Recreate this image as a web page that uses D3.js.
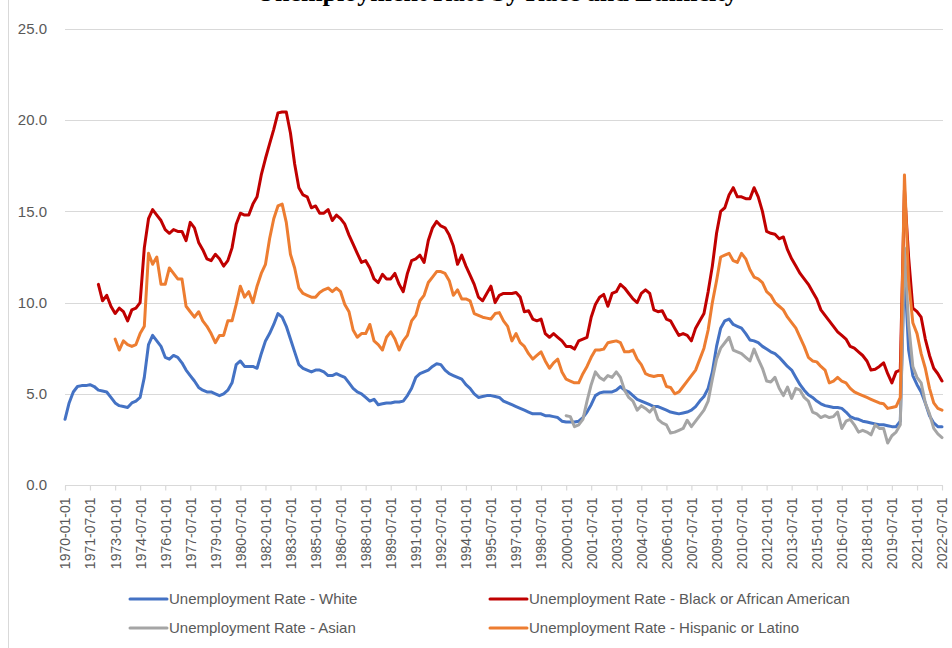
<!DOCTYPE html>
<html>
<head>
<meta charset="utf-8">
<script src="https://cdn.jsdelivr.net/npm/d3@7"></script>
<style>
  body { margin: 0; background: #fff; }
  svg { display: block; }
</style>
</head>
<body>
<div id="chart"></div>
<script>
// quarterly unemployment rate
const seriesNames = [
    "Unemployment Rate - White",
    "Unemployment Rate - Black or African American",
    "Unemployment Rate - Asian",
    "Unemployment Rate - Hispanic or Latino"
];
const seriesStarts = ["1970-01-01", "1972-01-01", "2000-01-01", "1973-01-01"];

const white = [
    3.6, 4.5, 5.1, 5.4,      // 1970
    5.45, 5.45, 5.5, 5.4,
    5.2, 5.15, 5.1, 4.8,
    4.5, 4.35, 4.3, 4.25,
    4.5, 4.6, 4.8, 5.9,
    7.7, 8.2, 7.9, 7.6,      // 1975
    7.0, 6.9, 7.1, 7.0,
    6.7, 6.3, 6.0, 5.7,
    5.35, 5.2, 5.1, 5.1,
    5.0, 4.9, 5.0, 5.2,
    5.6, 6.6, 6.8, 6.5,      // 1980
    6.5, 6.5, 6.4, 7.2,
    7.9, 8.3, 8.8, 9.4,
    9.2, 8.7, 8.0, 7.3,
    6.6, 6.4, 6.3, 6.2,
    6.3, 6.3, 6.2, 6.0,      // 1985
    6.0, 6.1, 6.0, 5.9,
    5.6, 5.3, 5.1, 5.0,
    4.8, 4.6, 4.7, 4.4,
    4.45, 4.5, 4.5, 4.55,
    4.55, 4.6, 4.9, 5.3,     // 1990
    5.9, 6.1, 6.2, 6.3,
    6.5, 6.65, 6.6, 6.3,
    6.1, 6.0, 5.9, 5.8,
    5.5, 5.3, 5.0, 4.8,
    4.85, 4.9, 4.9, 4.85,    // 1995
    4.8, 4.6, 4.5, 4.4,
    4.3, 4.2, 4.1, 4.0,
    3.9, 3.9, 3.9, 3.8,
    3.8, 3.75, 3.7, 3.5,
    3.45, 3.45, 3.45, 3.5,   // 2000
    3.7, 4.0, 4.4, 4.9,
    5.05, 5.1, 5.1, 5.1,
    5.2, 5.4, 5.2, 5.1,
    4.9, 4.7, 4.6, 4.5,
    4.4, 4.3, 4.3, 4.2,      // 2005
    4.1, 4.0, 3.95, 3.9,
    3.95, 4.0, 4.1, 4.3,
    4.6, 4.85, 5.3, 6.2,
    7.6, 8.6, 9.0, 9.1,
    8.8, 8.7, 8.6, 8.3,      // 2010
    7.95, 7.9, 7.8, 7.6,
    7.45, 7.3, 7.2, 7.0,
    6.75, 6.5, 6.3, 5.9,
    5.5, 5.2, 4.95, 4.8,
    4.6, 4.45, 4.35, 4.3,    // 2015
    4.25, 4.25, 4.2, 4.0,
    3.75, 3.65, 3.6, 3.5,
    3.45, 3.4, 3.35, 3.3,
    3.3, 3.25, 3.2, 3.2,
    3.5, 12.0, 7.4, 6.0,     // 2020
    5.5, 5.1, 4.5, 3.8,
    3.4, 3.2, 3.2
];

const black = [
    11.0, 10.1, 10.4, 9.8,   // 1972
    9.4, 9.7, 9.5, 9.0,
    9.6, 9.7, 10.0, 13.0,
    14.6, 15.1, 14.8, 14.5,  // 1975
    14.0, 13.8, 14.0, 13.9,
    13.9, 13.4, 14.4, 14.1,
    13.3, 12.9, 12.4, 12.3,
    12.65, 12.4, 12.0, 12.3,
    13.0, 14.3, 14.9, 14.8,  // 1980
    14.8, 15.4, 15.8, 17.0,
    17.9, 18.7, 19.5, 20.4,
    20.45, 20.45, 19.3, 17.6,
    16.3, 15.9, 15.8, 15.2,
    15.3, 14.9, 14.9, 15.1,  // 1985
    14.5, 14.8, 14.6, 14.3,
    13.7, 13.2, 12.7, 12.2,
    12.3, 11.9, 11.3, 11.1,
    11.55, 11.3, 11.3, 11.6,
    11.0, 10.6, 11.6, 12.3,  // 1990
    12.4, 12.6, 12.2, 13.4,
    14.1, 14.45, 14.2, 14.1,
    13.7, 13.1, 12.1, 12.6,
    12.0, 11.5, 11.0, 10.3,
    10.1, 10.5, 10.9, 10.0,  // 1995
    10.4, 10.5, 10.5, 10.5,
    10.55, 10.3, 9.5, 9.55,
    9.1, 9.0, 9.1, 8.3,
    8.1, 8.3, 8.1, 7.9,
    7.6, 7.6, 7.45, 7.9,     // 2000
    8.0, 8.1, 9.2, 9.9,
    10.3, 10.45, 9.8, 10.5,
    10.6, 11.0, 10.8, 10.5,
    10.2, 10.0, 10.5, 10.7,
    10.5, 9.6, 9.5, 9.55,    // 2005
    9.1, 9.0, 8.6, 8.2,
    8.3, 8.2, 7.9, 8.6,
    9.0, 9.4, 10.6, 12.0,
    13.8, 15.0, 15.2, 15.9,
    16.3, 15.8, 15.8, 15.7,  // 2010
    15.7, 16.3, 15.8, 15.0,
    13.9, 13.8, 13.75, 13.5,
    13.6, 12.9, 12.4, 12.0,
    11.6, 11.3, 11.0, 10.6,
    10.2, 9.6, 9.3, 9.0,     // 2015
    8.7, 8.4, 8.2, 8.0,
    7.6, 7.5, 7.3, 7.1,
    6.8, 6.3, 6.35, 6.5,
    6.7, 6.1, 5.6, 6.2,
    6.3, 16.2, 12.5, 9.7,    // 2020
    9.5, 9.2, 8.0, 7.1,
    6.4, 6.1, 5.7
];

const asian = [
    3.8, 3.75, 3.2, 3.3,     // 2000
    3.6, 4.6, 5.5, 6.2,
    5.9, 5.75, 6.0, 5.9,
    6.2, 5.9, 5.2, 4.8,
    4.6, 4.1, 4.35, 4.2,
    4.0, 4.27, 3.6, 3.4,     // 2005
    3.3, 2.85, 2.9, 3.0,
    3.1, 3.55, 3.2, 3.5,
    3.8, 4.1, 4.6, 5.8,
    6.9, 7.5, 7.8, 8.1,
    7.4, 7.3, 7.2, 7.0,      // 2010
    6.8, 7.45, 6.9, 6.4,
    5.7, 5.65, 5.9, 5.3,
    4.9, 5.37, 4.75, 5.3,
    5.2, 4.8, 4.6, 4.0,
    3.9, 3.7, 3.8, 3.7,      // 2015
    3.75, 4.0, 3.1, 3.5,
    3.6, 3.3, 2.9, 3.0,
    2.9, 2.75, 3.3, 3.1,
    3.1, 2.3, 2.7, 2.9,
    3.3, 13.0, 8.8, 6.5,     // 2020
    5.9, 5.6, 4.5, 3.9,
    3.1, 2.8, 2.6
];

const hispanic = [
    8.0, 7.4, 7.9, 7.7,      // 1973
    7.6, 7.7, 8.3, 8.7,
    12.7, 12.1, 12.5, 11.0,  // 1975
    11.0, 11.9, 11.6, 11.3,
    11.3, 9.8, 9.5, 9.2,
    9.5, 9.0, 8.7, 8.3,
    7.8, 8.2, 8.2, 9.0,
    9.0, 9.9, 10.9, 10.3,    // 1980
    10.6, 10.0, 10.9, 11.6,
    12.1, 13.5, 14.6, 15.3,
    15.4, 14.4, 12.65, 11.9,
    10.8, 10.5, 10.4, 10.3,
    10.3, 10.55, 10.7, 10.8, // 1985
    10.6, 10.8, 10.6, 9.9,
    9.5, 8.5, 8.1, 8.3,
    8.3, 8.8, 7.9, 7.7,
    7.4, 8.1, 8.4, 8.0,
    7.4, 7.9, 8.2, 9.0,      // 1990
    9.3, 10.1, 10.4, 11.1,
    11.4, 11.7, 11.7, 11.6,
    11.2, 10.4, 10.7, 10.2,
    10.2, 10.1, 9.4, 9.3,
    9.2, 9.15, 9.1, 9.4,     // 1995
    9.45, 9.0, 8.7, 7.9,
    8.3, 7.8, 7.6, 7.2,
    6.9, 7.1, 7.3, 6.8,
    6.4, 6.7, 6.9, 6.2,
    5.8, 5.7, 5.6, 5.6,      // 2000
    6.1, 6.5, 7.0, 7.4,
    7.4, 7.45, 7.8, 7.85,
    7.9, 7.8, 7.3, 7.3,
    7.4, 6.9, 6.6, 6.1,
    6.0, 5.95, 6.0, 6.0,     // 2005
    5.4, 5.35, 5.0, 5.1,
    5.4, 5.7, 6.0, 6.3,
    6.9, 7.5, 8.5, 10.0,
    11.2, 12.5, 12.6, 12.7,
    12.3, 12.2, 12.7, 12.4,  // 2010
    11.8, 11.4, 11.3, 11.1,
    10.6, 10.4, 10.0, 9.8,
    9.6, 9.2, 8.9, 8.6,
    8.1, 7.6, 7.0, 6.8,
    6.75, 6.5, 6.3, 5.6,     // 2015
    5.7, 5.9, 5.7, 5.6,
    5.3, 5.1, 5.0, 4.9,
    4.8, 4.7, 4.6, 4.5,
    4.45, 4.2, 4.25, 4.3,
    4.8, 17.0, 11.2, 8.9,    // 2020
    8.3, 7.2, 6.4, 5.3,
    4.5, 4.2, 4.1
];

const yTicks = [0, 5, 10, 15, 20, 25];
const xTickLabels = [
    "1970-01-01", "1971-07-01", "1973-01-01", "1974-07-01", "1976-01-01", "1977-07-01",
    "1979-01-01", "1980-07-01", "1982-01-01", "1983-07-01", "1985-01-01", "1986-07-01",
    "1988-01-01", "1989-07-01", "1991-01-01", "1992-07-01", "1994-01-01", "1995-07-01",
    "1997-01-01", "1998-07-01", "2000-01-01", "2001-07-01", "2003-01-01", "2004-07-01",
    "2006-01-01", "2007-07-01", "2009-01-01", "2010-07-01", "2012-01-01", "2013-07-01",
    "2015-01-01", "2016-07-01", "2018-01-01", "2019-07-01", "2021-01-01", "2022-07-01"
];

const colors = ["#4472C4", "#C00000", "#A5A5A5", "#ED7D31"];
const seriesValues = [white, black, asian, hispanic];

const width = 952, height = 648;
const margin = {left: 65, right: 10, top: 29, bottom: 163};

const parseDate = d3.utcParse("%Y-%m-%d");
const fmtDate = d3.utcFormat("%Y-%m-%d");

// each series is quarterly, starting at its own date
const series = seriesValues.map(function (vals, i) {
    let start = parseDate(seriesStarts[i]);
    return {
        name: seriesNames[i],
        color: colors[i],
        points: vals.map((v, k) => ({date: d3.utcMonth.offset(start, k * 3), value: v}))
    };
});

const svg = d3.select("#chart").append("svg")
    .attr("width", width)
    .attr("height", height);

let x = d3.scaleUtc()
    .domain([parseDate("1970-01-01"), parseDate("2022-07-01")])
    .range([margin.left, 942]);

let y = d3.scaleLinear()
    .domain([0, 25])
    .range([485, margin.top]);

// chart area border (left edge visible)
svg.append("line")
    .attr("x1", 8.5).attr("x2", 8.5)
    .attr("y1", 0).attr("y2", height)
    .attr("stroke", "#d9d9d9")
    .attr("stroke-width", 1);

// title, mostly cut off at the top
svg.append("text")
    .attr("x", 497)
    .attr("y", 1)
    .attr("text-anchor", "middle")
    .attr("font-family", "'Liberation Serif', 'Times New Roman', serif")
    .attr("font-weight", "bold")
    .attr("font-size", 26)
    .attr("fill", "#000")
    .text("Unemployment Rate by Race and Ethnicity");

// gridlines
svg.append("g")
    .selectAll("line")
    .data(yTicks.filter(d => d > 0))
    .join("line")
    .attr("x1", margin.left)
    .attr("x2", 943)
    .attr("y1", d => Math.round(y(d)) + 0.5)
    .attr("y2", d => Math.round(y(d)) + 0.5)
    .attr("stroke", "#d9d9d9")
    .attr("stroke-width", 1.2);

// y labels
svg.append("g")
    .selectAll("text")
    .data(yTicks)
    .join("text")
    .attr("x", 47)
    .attr("y", d => y(d))
    .attr("dy", "0.35em")
    .attr("text-anchor", "end")
    .attr("font-family", "'Liberation Sans', Arial, sans-serif")
    .attr("font-size", 15)
    .attr("fill", "#595959")
    .text(d => d3.format(".1f")(d));

// x axis
let xAxis = d3.axisBottom(x)
    .tickValues(xTickLabels.map(parseDate))
    .tickSize(5)
    .tickSizeOuter(0)
    .tickFormat(fmtDate);

let gx = svg.append("g")
    .attr("transform", "translate(0," + (Math.round(y(0)) + 0.5) + ")")
    .call(xAxis);

gx.select(".domain")
    .attr("stroke", "#d9d9d9")
    .attr("stroke-width", 1.2)
    .attr("d", "M" + margin.left + ",0H943");
gx.selectAll(".tick line")
    .attr("stroke", "#d9d9d9")
    .attr("stroke-width", 1.2);
gx.selectAll(".tick text")
    .attr("transform", "rotate(-90)")
    .attr("x", -12)
    .attr("y", 0)
    .attr("dy", "0.35em")
    .attr("text-anchor", "end")
    .attr("font-family", "'Liberation Sans', Arial, sans-serif")
    .attr("font-size", 14)
    .attr("fill", "#595959");

// lines
let line = d3.line()
    .x(d => x(d.date))
    .y(d => y(d.value));

svg.append("g")
    .selectAll("path")
    .data(series)
    .join("path")
    .attr("d", d => line(d.points))
    .attr("fill", "none")
    .attr("stroke", d => d.color)
    .attr("stroke-width", 3)
    .attr("stroke-linejoin", "round")
    .attr("stroke-linecap", "round");

// legend, two columns
let legendPos = [[130, 599], [490, 599], [130, 628], [490, 628]];

let legend = svg.append("g")
    .selectAll("g")
    .data(series)
    .join("g")
    .attr("transform", (d, i) => "translate(" + legendPos[i][0] + "," + legendPos[i][1] + ")");

legend.append("line")
    .attr("x1", 0).attr("x2", 37)
    .attr("y1", 0).attr("y2", 0)
    .attr("stroke", d => d.color)
    .attr("stroke-width", 3)
    .attr("stroke-linecap", "round");

legend.append("text")
    .attr("x", 39)
    .attr("y", 0)
    .attr("dy", "0.35em")
    .attr("font-family", "'Liberation Sans', Arial, sans-serif")
    .attr("font-size", 15)
    .attr("fill", "#595959")
    .text(d => d.name);
</script>
</body>
</html>
